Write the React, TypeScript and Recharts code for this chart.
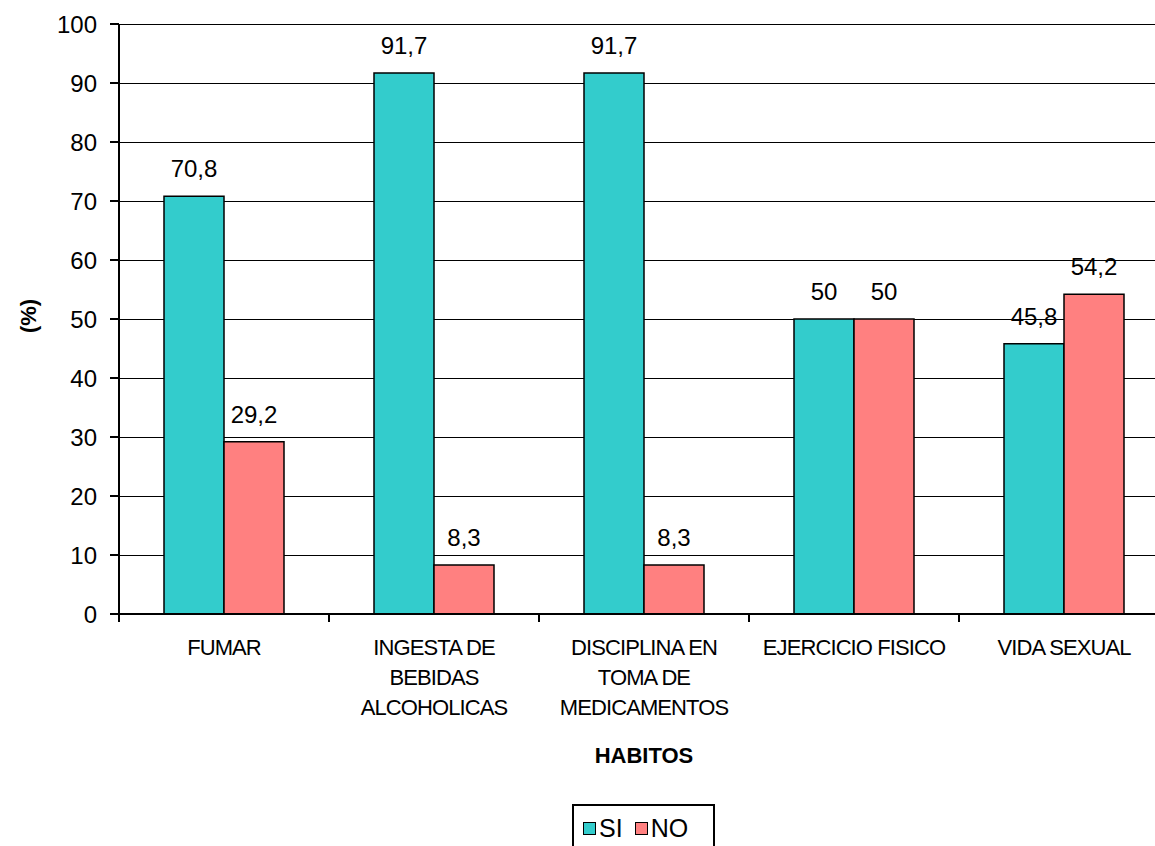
import React from "react";
import {
  BarChart,
  Bar,
  XAxis,
  YAxis,
  CartesianGrid,
  Legend,
  LabelList,
  Label,
} from "recharts";

// Habits surveyed (category keys) and the wrapped lines shown under each one
const categories = [
  "FUMAR",
  "INGESTA DE BEBIDAS ALCOHOLICAS",
  "DISCIPLINA EN TOMA DE MEDICAMENTOS",
  "EJERCICIO FISICO",
  "VIDA SEXUAL",
];
const categoryLines: string[][] = [
  ["FUMAR"],
  ["INGESTA DE", "BEBIDAS", "ALCOHOLICAS"],
  ["DISCIPLINA EN", "TOMA DE", "MEDICAMENTOS"],
  ["EJERCICIO FISICO"],
  ["VIDA SEXUAL"],
];

// Percentages per habit
const siValues = [70.8, 91.7, 91.7, 50, 45.8];
const noValues = [29.2, 8.3, 8.3, 50, 54.2];

const seriesOrder = ["SI", "NO"];
const yTicks = [0, 10, 20, 30, 40, 50, 60, 70, 80, 90, 100];

const SI_COLOR = "#33CCCC";
const NO_COLOR = "#FF8080";
const FONT = "'Liberation Sans', Arial, sans-serif";

const data = categories.map((c, i) => ({
  name: c,
  SI: siValues[i],
  NO: noValues[i],
}));

const fmt = (v: any) => String(v).replace(".", ",");

// Category tick: wrapped label plus tick marks at the band boundaries
const CategoryTick = (props: any) => {
  const { x, y, payload } = props;
  const idx = categories.indexOf(payload.value);
  const lines = idx >= 0 ? categoryLines[idx] : [String(payload.value)];
  const half = payload.offset ?? 105;
  return (
    <g>
      <line x1={x - half} y1={y} x2={x - half} y2={y + 8} stroke="#000" strokeWidth={2} />
      <line x1={x + half} y1={y} x2={x + half} y2={y + 8} stroke="#000" strokeWidth={2} />
      <text
        x={x}
        y={y}
        textAnchor="middle"
        fontFamily={FONT}
        fontSize={22}
        letterSpacing={-0.9}
        fill="#000"
      >
        {lines.map((ln, i) => (
          <tspan key={i} x={x} y={y + 41 + i * 30}>
            {ln}
          </tspan>
        ))}
      </text>
    </g>
  );
};

const LegendBox = (props: any) => {
  const items = [...(props.payload || [])].sort(
    (a: any, b: any) => seriesOrder.indexOf(a.value) - seriesOrder.indexOf(b.value)
  );
  return (
    <div
      style={{
        display: "flex",
        alignItems: "center",
        border: "2px solid #000",
        background: "#fff",
        padding: "2px 8px 14px 9px",
        fontFamily: FONT,
        fontSize: 25,
        color: "#000",
        width: 122,
        height: 40,
        boxSizing: "content-box",
      }}
    >
      {items.map((it: any, i: number) => (
        <div
          key={i}
          style={{ display: "flex", alignItems: "center", marginRight: i === 0 ? 12 : 0 }}
        >
          <span
            style={{
              display: "inline-block",
              width: 11,
              height: 11,
              background: it.color,
              border: "1px solid #000",
              marginRight: 3,
            }}
          />
          <span>{it.value}</span>
        </div>
      ))}
    </div>
  );
};

export default function App() {
  return (
    <div
      style={{
        position: "absolute",
        left: 0,
        top: 0,
        width: 1155,
        height: 846,
        overflow: "hidden",
        background: "#fff",
      }}
    >
      <BarChart
        width={1175}
        height={846}
        data={data}
        margin={{ top: 24, right: 6, left: 0, bottom: 0 }}
        barSize={60}
        barGap={0}
      >
        <CartesianGrid
          vertical={false}
          stroke="#000"
          strokeWidth={1}
          shapeRendering="crispEdges"
        />
        <XAxis
          dataKey="name"
          height={232}
          interval={0}
          tickLine={false}
          tickSize={0}
          tickMargin={0}
          axisLine={{ stroke: "#000", strokeWidth: 2 }}
          tick={<CategoryTick />}
        >
          <Label
            content={(p: any) => {
              const vb = p.viewBox;
              return (
                <text
                  x={vb.x + vb.width / 2}
                  y={vb.y + 149}
                  textAnchor="middle"
                  fontFamily={FONT}
                  fontWeight="bold"
                  fontSize={22}
                  fill="#000"
                >
                  HABITOS
                </text>
              );
            }}
          />
        </XAxis>
        <YAxis
          width={119}
          domain={[0, 100]}
          ticks={yTicks}
          interval={0}
          tickSize={9}
          tickMargin={13}
          tickLine={{ stroke: "#000", strokeWidth: 2 }}
          axisLine={{ stroke: "#000", strokeWidth: 2 }}
          tick={{ fill: "#000", fontSize: 24, fontFamily: FONT }}
        >
          <Label
            content={(p: any) => {
              const vb = p.viewBox;
              const cx = vb.x + 28;
              const cy = vb.y + vb.height / 2 - 3;
              return (
                <text
                  x={cx}
                  y={cy}
                  textAnchor="middle"
                  dominantBaseline="central"
                  transform={`rotate(-90, ${cx}, ${cy})`}
                  fontFamily={FONT}
                  fontWeight="bold"
                  fontSize={22}
                  fill="#000"
                >
                  (%)
                </text>
              );
            }}
          />
        </YAxis>
        <Legend
          layout="horizontal"
          verticalAlign="middle"
          align="center"
          content={<LegendBox />}
          wrapperStyle={{ top: 804, left: 572, width: "auto", height: "auto" }}
        />
        <Bar dataKey="SI" name="SI" fill={SI_COLOR} stroke="#000" strokeWidth={1.5} isAnimationActive={false}>
          <LabelList
            dataKey="SI"
            position="top"
            offset={19}
            formatter={fmt}
            fill="#000"
            fontSize={24}
            fontFamily={FONT}
          />
        </Bar>
        <Bar dataKey="NO" name="NO" fill={NO_COLOR} stroke="#000" strokeWidth={1.5} isAnimationActive={false}>
          <LabelList
            dataKey="NO"
            position="top"
            offset={19}
            formatter={fmt}
            fill="#000"
            fontSize={24}
            fontFamily={FONT}
          />
        </Bar>
      </BarChart>
    </div>
  );
}
